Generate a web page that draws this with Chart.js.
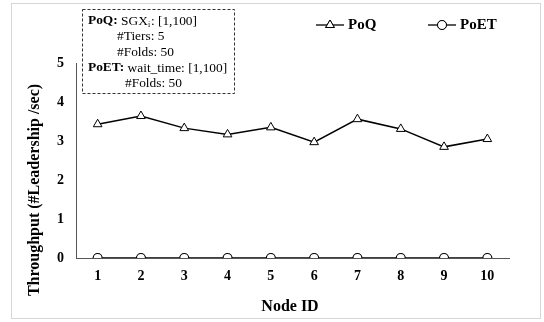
<!DOCTYPE html>
<html>
<head>
  <meta charset="UTF-8">
  <script src="https://cdn.jsdelivr.net/npm/chart.js"></script>
  <title>PoQ vs PoET</title>
  <style>
    body { margin: 0; background: #fff; }
    #wrap { width: 544px; height: 322px; position: relative; }
  </style>
</head>
<body>
  <div id="wrap"><canvas id="myChart" width="544" height="322"></canvas></div>

<script>
  var nodeIds = ['1', '2', '3', '4', '5', '6', '7', '8', '9', '10'];
  var poqValues = [3.43, 3.64, 3.33, 3.17, 3.35, 2.97, 3.56, 3.31, 2.85, 3.05];
  var poetValues = [0, 0, 0, 0, 0, 0, 0, 0, 0, 0];
  var yTicks = [0, 1, 2, 3, 4, 5];

  var serif = "'Liberation Serif', 'Times New Roman', serif";

  // frame, legend, notes box and axis titles
  var extras = {
    id: 'extras',
    beforeDraw: function (chart) {
      var ctx = chart.ctx;
      ctx.save();
      ctx.fillStyle = '#fff';
      ctx.fillRect(0, 0, chart.width, chart.height);
      ctx.strokeStyle = '#d6d6d6';
      ctx.lineWidth = 1;
      ctx.strokeRect(11.5, 3.5, 529, 315);
      ctx.restore();
    },
    afterDraw: function (chart) {
      var ctx = chart.ctx;
      ctx.save();
      ctx.fillStyle = '#000';
      ctx.textBaseline = 'middle';

      // axis titles
      ctx.font = 'bold 16px ' + serif;
      ctx.textAlign = 'center';
      ctx.fillText('Node ID', 290, 307);
      ctx.save();
      ctx.translate(35, 190);
      ctx.rotate(-Math.PI / 2);
      ctx.fillText('Throughput (#Leadership /sec)', 0, 0);
      ctx.restore();

      // legend
      var items = [
        { ds: chart.data.datasets[0], x: 316 },
        { ds: chart.data.datasets[1], x: 428 }
      ];
      items.forEach(function (it) {
        var y = 25;
        ctx.strokeStyle = '#000';
        ctx.lineWidth = 1.3;
        ctx.beginPath();
        ctx.moveTo(it.x, y);
        ctx.lineTo(it.x + 28, y);
        ctx.stroke();
        ctx.lineWidth = 1;
        ctx.fillStyle = '#fff';
        Chart.helpers.drawPoint(ctx, {
          pointStyle: it.ds.pointStyle, radius: it.ds.pointRadius, borderWidth: 1
        }, it.x + 14, y);
        ctx.fill();
        ctx.stroke();
        ctx.fillStyle = '#000';
        ctx.font = 'bold 15px ' + serif;
        ctx.textAlign = 'left';
        ctx.fillText(it.ds.label, it.x + 32, y);
      });

      // notes box
      var fs = '13.4px ';
      ctx.strokeStyle = '#333';
      ctx.lineWidth = 1;
      ctx.setLineDash([3, 2]);
      ctx.strokeRect(82.5, 9.5, 152, 84);
      ctx.setLineDash([]);
      ctx.textAlign = 'left';
      var x0 = 88;
      ctx.font = 'bold ' + fs + serif;
      ctx.fillText('PoQ:', x0, 21);
      var w = ctx.measureText('PoQ: ').width;
      ctx.font = fs + serif;
      ctx.fillText('SGX', x0 + w, 21);
      var w2 = ctx.measureText('SGX').width;
      ctx.font = '8px ' + serif;
      ctx.fillText('i', x0 + w + w2, 25);
      ctx.font = fs + serif;
      ctx.fillText(': [1,100]', x0 + w + w2 + 3, 21);
      ctx.fillText('#Tiers: 5', 117, 36);
      ctx.fillText('#Folds: 50', 117, 52);
      ctx.font = 'bold ' + fs + serif;
      ctx.fillText('PoET:', x0, 68);
      var w3 = ctx.measureText('PoET: ').width;
      ctx.font = fs + serif;
      ctx.fillText('wait_time: [1,100]', x0 + w3, 68);
      ctx.fillText('#Folds: 50', 125, 83);
      ctx.restore();
    }
  };

  var config = {
    type: 'line',
    data: {
      labels: nodeIds,
      datasets: [
        {
          label: 'PoQ',
          data: poqValues,
          borderColor: '#000',
          borderWidth: 1.5,
          pointStyle: 'triangle',
          pointRadius: 5,
          pointBorderWidth: 1,
          pointBackgroundColor: '#fff',
          pointBorderColor: '#000',
          tension: 0
        },
        {
          label: 'PoET',
          data: poetValues,
          borderColor: '#000',
          borderWidth: 1.5,
          pointStyle: 'circle',
          pointRadius: 4.5,
          pointBorderWidth: 1.2,
          pointBackgroundColor: '#fff',
          pointBorderColor: '#000',
          tension: 0
        }
      ]
    },
    options: {
      responsive: false,
      animation: false,
      layout: { padding: { left: 0, top: 63, right: 35, bottom: 0 } },
      plugins: {
        legend: { display: false },
        tooltip: { enabled: false }
      },
      scales: {
        x: {
          type: 'category',
          offset: true,
          grid: { display: false, drawTicks: false },
          border: { display: true, color: '#555', width: 1 },
          ticks: {
            color: '#000',
            padding: 10,
            maxRotation: 0,
            font: { family: serif, size: 14, weight: 'bold' }
          },
          afterFit: function (scale) { scale.height = 64; }
        },
        y: {
          min: 0,
          max: 5,
          grid: { display: false, drawTicks: false },
          border: { display: true, color: '#555', width: 1 },
          afterBuildTicks: function (scale) {
            scale.ticks = yTicks.map(function (v) { return { value: v }; });
          },
          ticks: {
            color: '#000',
            padding: 12,
            font: { family: serif, size: 14, weight: 'bold' }
          },
          afterFit: function (scale) { scale.width = 76; }
        }
      }
    },
    plugins: [extras]
  };

  const myChart = new Chart(document.getElementById('myChart'), config);
</script>
</body>
</html>
